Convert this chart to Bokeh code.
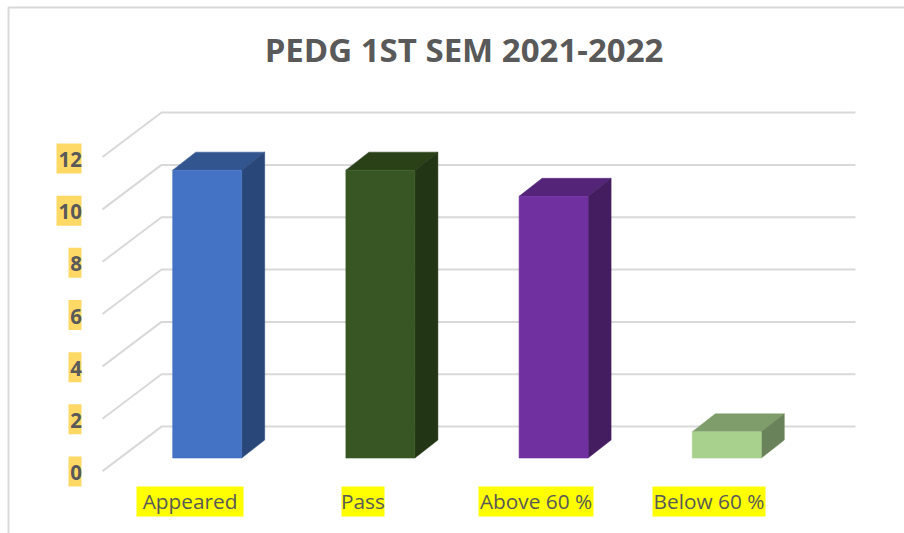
from bokeh.plotting import figure
from bokeh.models import Range1d, Label
from bokeh.core.properties import value
from bokeh.embed import file_html
from bokeh.resources import INLINE

title = "PEDG 1ST SEM 2021-2022"
categories = ["Appeared", "Pass", "Above 60 %", "Below 60 %"]
values = [11, 11, 10, 1]
y_ticks = [0, 2, 4, 6, 8, 10, 12]
front_colors = ["#4472C4", "#375623", "#7030A0", "#A9D18E"]
top_colors = ["#325590", "#2A4118", "#542478", "#7F9D6B"]
side_colors = ["#2A4779", "#223515", "#441D60", "#6A8259"]

TEXT = "#595959"
GRID = "#D9D9D9"
W, H = 904, 533
UX, UY = 173.2, 26.17          # pixels per category / per value
X0, Y0 = 206.7, 457.5          # pixel of first category centre / of value 0
BAR = 69 / UX                  # bar width
DX, DY = 23 / UX, 18 / UY      # bar depth offset
WALL_F, WALL_B, WALL_R = (102 - X0) / UX, (161 - X0) / UX, (855 - X0) / UX
FLOOR_F, FLOOR_B = -0.5, 1.2   # y offset of a wall line's front and back


def px_x(x):
    return (x - X0) / UX


def px_y(y):
    return (Y0 - y) / UY


p = figure(width=W, height=H, output_backend="svg", toolbar_location=None,
           x_range=Range1d(-X0 / UX, (W - X0) / UX),
           y_range=Range1d(-(H - Y0) / UY, Y0 / UY),
           min_border=0, outline_line_color=None, background_fill_color="white",
           border_fill_color="white", x_axis_type=None, y_axis_type=None)
p.grid.visible = False

# chart frame (left and top edges)
p.line([px_x(8), px_x(8), p.x_range.end], [p.y_range.start, px_y(7), px_y(7)],
       line_color=GRID, line_width=2)

# walls
for t in y_ticks:
    p.line([WALL_F, WALL_B, WALL_R],
           [t + FLOOR_F, t + FLOOR_B, t + FLOOR_B],
           line_color=GRID, line_width=2)

# bars
for i, v in enumerate(values):
    l, r = i - BAR / 2, i + BAR / 2
    p.patch([l, r, r + DX, l + DX], [v, v, v + DY, v + DY],
            fill_color=top_colors[i], line_color=top_colors[i], line_width=0.5)
    p.patch([r, r + DX, r + DX, r], [0, DY, v + DY, v],
            fill_color=side_colors[i], line_color=side_colors[i], line_width=0.5)
    p.quad(left=l, right=r, bottom=0, top=v,
           fill_color=front_colors[i], line_color=front_colors[i], line_width=1, line_alpha=0.6)

# value labels with highlights
tick_centres = [471 - 26.08 * t for t in y_ticks]
tick_widths = [25 if t >= 10 else 13 for t in y_ticks]
p.quad(left=[px_x(81 - w) for w in tick_widths], right=[px_x(81)] * len(y_ticks),
       top=[px_y(c - 15) for c in tick_centres], bottom=[px_y(c + 15) for c in tick_centres],
       fill_color="#FFD966", line_color=None)
p.text(x=[px_x(81.5)] * len(y_ticks), y=[px_y(c + 1) for c in tick_centres],
       text=[str(t) for t in y_ticks], text_align="right", text_baseline="middle",
       text_font=value("Open Sans"), text_font_style="bold", text_font_size="20.5px",
       text_color=TEXT)

# category labels with highlights
label_x = [189.5, 362.5, 535.5, 708.5]
label_w = [107, 43, 115, 113]
label_y = 501
p.quad(left=[px_x(c - w / 2) for c, w in zip(label_x, label_w)],
       right=[px_x(c + w / 2) for c, w in zip(label_x, label_w)],
       top=px_y(label_y - 15), bottom=px_y(label_y + 15),
       fill_color="#FFFF00", line_color=None)
p.text(x=[px_x(c) for c in label_x], y=[px_y(label_y - 1)] * len(categories), text=categories,
       text_align="center", text_baseline="middle",
       text_font=value("Open Sans"), text_font_size="20.8px", text_color=TEXT)

p.add_layout(Label(x=463.5, y=H - 49, x_units="screen", y_units="screen", text=title,
                   text_align="center", text_baseline="middle", text_color=TEXT,
                   text_font="Open Sans", text_font_style="bold", text_font_size="33px"))

open("out.html", "w").write(file_html(p, INLINE))
